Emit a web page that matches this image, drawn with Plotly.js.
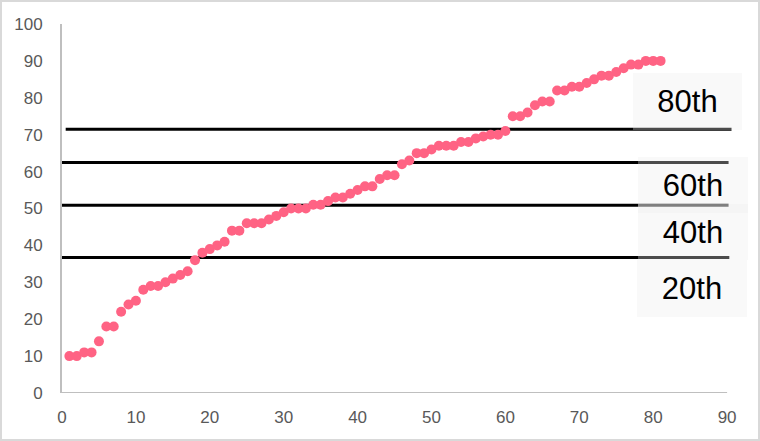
<!DOCTYPE html>
<html>
<head>
<meta charset="utf-8">
<script src="https://cdn.plot.ly/plotly-3.0.1.min.js"></script>
<style>
  html, body { margin: 0; padding: 0; background: #fff; }
  #wrap { position: relative; width: 760px; height: 441px; }
  #chart { width: 760px; height: 441px; }
  #frame { position: absolute; left: 0; top: 0; width: 760px; height: 441px; box-sizing: border-box; border: 2px solid #d9d9d9; pointer-events: none; }
</style>
</head>
<body>
<div id="wrap"><div id="chart"></div><div id="frame"></div></div>
<script>
// Data
const rank = [1,2,3,4,5,6,7,8,9,10,11,12,13,14,15,16,17,18,19,20,
  21,22,23,24,25,26,27,28,29,30,31,32,33,34,35,36,37,38,39,40,
  41,42,43,44,45,46,47,48,49,50,51,52,53,54,55,56,57,58,59,60,
  61,62,63,64,65,66,67,68,69,70,71,72,73,74,75,76,77,78,79,80,81];
const score = [10,10,11,11,14,18,18,22,24,25,28,29,29,30,31,32,33,36,38,39,
  40,41,44,44,46,46,46,47,48,49,50,50,50,51,51,52,53,53,54,55,
  56,56,58,59,59,62,63,65,65,66,67,67,67,68,68,69,69.5,70,70,71,
  75,75,76,78,79,79,82,82,83,83,84,85,86,86,87,88,89,89,90,90,90];

const pctLabels = ['80th', '60th', '40th', '20th'];
const pctValues = [71.5, 62.5, 50.9, 36.7];
const pctLineStart = [0.5, 0, 0, 0];
const pctLineEnd = [90.6, 90.2, 90.2, 90.3];

const xTicks = [0,10,20,30,40,50,60,70,80,90];
const yTicks = [0,10,20,30,40,50,60,70,80,90,100];

// label box placement (data coords) and sizes (px)
const boxX = [84.7, 85.4, 85.4, 85.2];
const boxY = [79.0, 56.4, 43.6, 28.3];
const boxW = [109, 110, 110, 110];
const boxH = [57, 56, 56, 57];

const traces = [];
pctValues.forEach((v, i) => {
  traces.push({
    type: 'scatter', mode: 'lines',
    x: [pctLineStart[i], pctLineEnd[i]], y: [v, v],
    line: { color: '#000000', width: 3 },
    hoverinfo: 'skip', showlegend: false
  });
});
traces.push({
  type: 'scatter', mode: 'markers',
  x: rank, y: score,
  marker: { color: '#ff6384', size: 10 },
  cliponaxis: false,
  showlegend: false
});

const annotations = pctLabels.map((t, i) => ({
  text: t, xref: 'x', yref: 'y', x: boxX[i], y: boxY[i],
  xanchor: 'center', yanchor: 'middle', showarrow: false,
  width: boxW[i], height: boxH[i], borderpad: 0, borderwidth: 0,
  bgcolor: 'rgba(236,236,236,0.32)', align: 'center', valign: 'middle',
  font: { family: 'Liberation Sans, Arial, sans-serif', size: 31, color: '#000000' }
}));

const layout = {
  width: 760, height: 441,
  margin: { l: 62, r: 27.4, t: 24, b: 48, pad: 0 },
  paper_bgcolor: '#ffffff', plot_bgcolor: '#ffffff',
  showlegend: false,
  font: { family: 'Liberation Sans, Arial, sans-serif', size: 17, color: '#595959' },
  xaxis: {
    range: [0, 90.8], tickvals: xTicks, ticktext: xTicks.map(String),
    showgrid: false, zeroline: false, showline: false, ticks: '',
    ticklabelstandoff: 12,
    tickfont: { family: 'Liberation Sans, Arial, sans-serif', size: 17, color: '#595959' }
  },
  yaxis: {
    range: [0, 100], tickvals: yTicks, ticktext: yTicks.map(String),
    showgrid: false, zeroline: false, showline: true, linecolor: '#bfbfbf', linewidth: 2,
    ticks: '', ticklabelstandoff: 14,
    tickfont: { family: 'Liberation Sans, Arial, sans-serif', size: 17, color: '#595959' }
  },
  shapes: [{
    type: 'line', xref: 'x', yref: 'y', x0: 0, x1: 90, y0: 0, y1: 0,
    line: { color: '#bfbfbf', width: 2 }
  }],
  annotations: annotations
};

Plotly.newPlot('chart', traces, layout, { displayModeBar: false, staticPlot: true });
</script>
</body>
</html>
